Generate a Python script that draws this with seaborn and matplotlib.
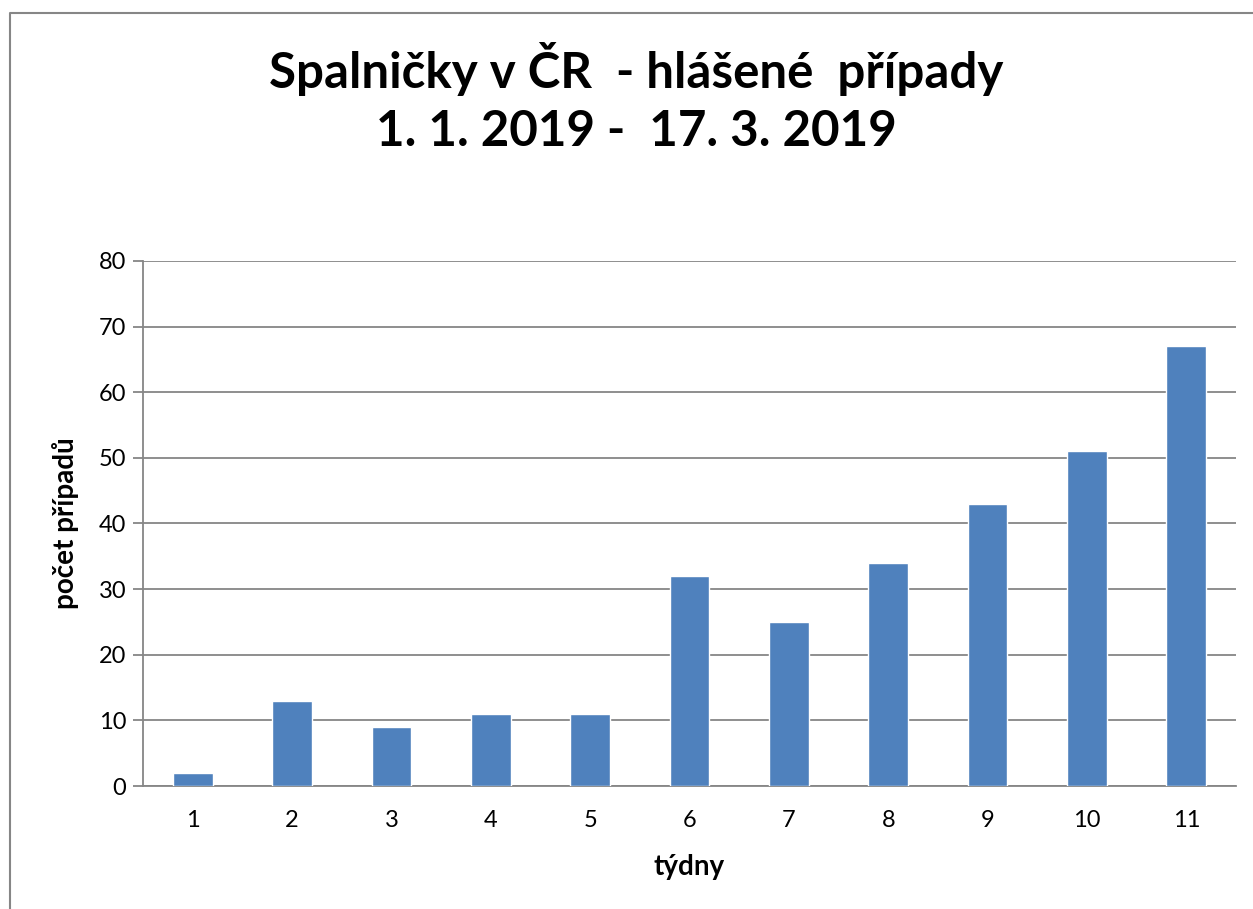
import pandas as pd
import matplotlib.pyplot as plt
import seaborn as sns
from matplotlib.lines import Line2D

# ── Data ──────────────────────────────────────────────────────────────────────

weeks = ['1', '2', '3', '4', '5', '6', '7', '8', '9', '10', '11']
cases = [2, 13, 9, 11, 11, 32, 25, 34, 43, 51, 67]

df = pd.DataFrame({'week': weeks, 'cases': cases})

# ── Plot ──────────────────────────────────────────────────────────────────────

sns.set_style('white')
plt.rcParams['font.family'] = ['Lato', 'DejaVu Sans']
plt.rcParams['text.color'] = 'black'
plt.rcParams['axes.labelcolor'] = 'black'
plt.rcParams['xtick.color'] = 'black'
plt.rcParams['ytick.color'] = 'black'

fig = plt.figure(figsize=(12.53, 9.09), dpi=100)
ax = fig.add_axes([0.1141, 0.1353, 0.8723, 0.5776])

sns.barplot(data=df, x='week', y='cases', color='#4F81BD', saturation=1,
            width=0.4, ax=ax, zorder=3)

ax.set_ylim(0, 80)
ax.set_xlim(-0.5, len(weeks) - 0.5)
ax.set_yticks(range(0, 81, 10))
ax.yaxis.grid(True, color='#868686', linewidth=1.3, zorder=0)
ax.set_axisbelow(True)

# category-boundary ticks on x axis
ax.set_xticks([i - 0.5 for i in range(len(weeks) + 1)], minor=True)
ax.tick_params(axis='x', which='minor', length=7, width=1.3, color='#868686', direction='out')
ax.tick_params(axis='x', which='major', length=0, labelsize=17, pad=17)
ax.tick_params(axis='y', length=7, width=1.3, color='#868686', direction='out',
               labelsize=17, pad=5, left=True)

for s in ['top', 'right']:
    ax.spines[s].set_visible(False)
for s in ['left', 'bottom']:
    ax.spines[s].set_color('#868686')
    ax.spines[s].set_linewidth(1.3)

ax.set_xlabel('týdny', fontsize=20, fontweight='bold', labelpad=17)
ax.set_ylabel('počet případů', fontsize=20, fontweight='bold', labelpad=14)

fig.text(0.508, 0.924, 'Spalničky v ČR  - hlášené  případy', ha='center', va='center',
         fontsize=35.5, fontweight='bold')
fig.text(0.508, 0.855, '1. 1. 2019 -  17. 3. 2019', ha='center', va='center',
         fontsize=35.5, fontweight='bold')

# chart frame (left and top edges visible)
fig.add_artist(Line2D([0.008, 0.008, 1.0], [0.0, 0.986, 0.986], color='#868686',
                      linewidth=1.5, transform=fig.transFigure))

fig.savefig('out.png', dpi=100, facecolor='white')
